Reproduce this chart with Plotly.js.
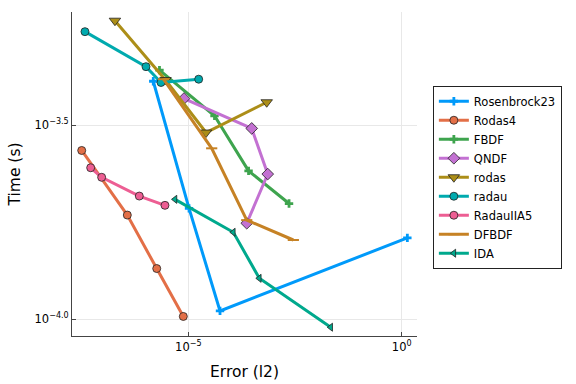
<!DOCTYPE html>
<html>
<head>
<meta charset="utf-8">
<script src="https://cdn.plot.ly/plotly-3.0.1.min.js"></script>
<style>html,body{margin:0;padding:0;background:#fff;}#plot{width:576px;height:384px;}</style>
</head>
<body>
<div id="plot"></div>
<script>
// Series names and colours
const seriesNames = ["Rosenbrock23","Rodas4","FBDF","QNDF","rodas","radau","RadauIIA5","DFBDF","IDA"];
const seriesColors = ["#009AFA","#E36F47","#3EA44E","#C371D2","#AC8E18","#00AAAE","#ED5E93","#C68225","#00A98D"];

// Error (l2) values
const rosenbrock23Err = [1.51e-6, 1.04e-5, 5.53e-5, 1.355];
const rodas4Err       = [3.18e-8, 3.72e-7, 1.82e-6, 7.64e-6];
const fbdfErr         = [2.11e-6, 4.11e-5, 2.58e-4, 2.29e-3];
const qndfErr         = [7.93e-6, 3.06e-4, 7.26e-4, 2.34e-4];
const rodasErr        = [1.91e-7, 2.92e-6, 2.60e-5, 6.87e-4];
const radauErr        = [3.79e-8, 1.02e-6, 2.29e-6, 1.75e-5];
const radauIIA5Err    = [5.16e-8, 9.33e-8, 7.11e-7, 2.84e-6];
const dfbdfErr        = [2.62e-6, 3.53e-5, 2.34e-4, 2.89e-3];
const idaErr          = [4.88e-6, 1.135e-4, 4.61e-4, 2.17e-2];

// Time (s) values
const rosenbrock23Time = [4.10e-4, 1.93e-4, 1.051e-4, 1.62e-4];
const rodas4Time       = [2.72e-4, 1.855e-4, 1.351e-4, 1.017e-4];
const fbdfTime         = [4.38e-4, 3.34e-4, 2.41e-4, 1.986e-4];
const qndfTime         = [3.70e-4, 3.10e-4, 2.365e-4, 1.767e-4];
const rodasTime        = [5.87e-4, 4.13e-4, 3.025e-4, 3.62e-4];
const radauTime        = [5.50e-4, 4.47e-4, 4.07e-4, 4.15e-4];
const radauIIA5Time    = [2.455e-4, 2.32e-4, 2.076e-4, 1.965e-4];
const dfbdfTime        = [4.15e-4, 2.755e-4, 1.80e-4, 1.60e-4];
const idaTime          = [2.036e-4, 1.675e-4, 1.275e-4, 9.54e-5];

// Tick labels
const xTickVals = [1e-5, 1];
const xTickText = ["10<sup>−5</sup>", "10<sup>0</sup>"];
const yTickVals = [Math.pow(10,-4.0), Math.pow(10,-3.5)];
const yTickText = ["10<sup>−4.0</sup>", "10<sup>−3.5</sup>"];

const errs = [rosenbrock23Err, rodas4Err, fbdfErr, qndfErr, rodasErr, radauErr, radauIIA5Err, dfbdfErr, idaErr];
const times = [rosenbrock23Time, rodas4Time, fbdfTime, qndfTime, rodasTime, radauTime, radauIIA5Time, dfbdfTime, idaTime];

const markerStyles = [
  {symbol:"cross", size:7, lw:0, lc:null},
  {symbol:"circle", size:8, lw:0.8, lc:"#222"},
  {symbol:"cross", size:7, lw:0, lc:null},
  {symbol:"diamond", size:9, lw:0.8, lc:"#222"},
  {symbol:"triangle-down", size:10, lw:0.8, lc:"#222"},
  {symbol:"circle", size:8, lw:0.8, lc:"#222"},
  {symbol:"circle", size:8, lw:0.8, lc:"#222"},
  {symbol:"line-ew", size:8, lw:2, lc:"#C68225"},
  {symbol:"triangle-left", size:7, lw:0.8, lc:"#222"}
];

const traces = seriesNames.map((name, i) => {
  const m = markerStyles[i];
  return {
    type: "scatter",
    mode: "lines+markers",
    name: name,
    x: errs[i],
    y: times[i],
    line: {color: seriesColors[i], width: 3},
    marker: {
      symbol: m.symbol,
      size: m.size,
      color: seriesColors[i],
      line: {width: m.lw, color: m.lc || seriesColors[i]}
    }
  };
});

const fontFam = "DejaVu Sans, sans-serif";
const layout = {
  width: 576,
  height: 384,
  autosize: false,
  margin: {l: 72, r: 159, t: 12, b: 48, pad: 0},
  paper_bgcolor: "#fff",
  plot_bgcolor: "#fff",
  font: {family: fontFam, size: 11.5, color: "#000"},
  showlegend: true,
  legend: {
    x: 1.046, xanchor: "left",
    y: 0.49, yanchor: "middle",
    bgcolor: "#fff",
    bordercolor: "#222",
    borderwidth: 1,
    font: {family: fontFam, size: 11.5, color: "#000"}
  },
  xaxis: {
    type: "log",
    range: [-7.725, 0.358],
    tickmode: "array",
    tickvals: xTickVals,
    ticktext: xTickText,
    ticks: "inside",
    ticklen: 4,
    tickcolor: "#444",
    showline: true,
    linecolor: "#444",
    linewidth: 1,
    showgrid: true,
    gridcolor: "#e8e8e8",
    gridwidth: 1,
    zeroline: false,
    mirror: false,
    tickfont: {family: fontFam, size: 11.5, color: "#000"},
    title: {text: "Error (l2)", font: {family: fontFam, size: 15.5, color: "#000"}, standoff: 13}
  },
  yaxis: {
    type: "log",
    range: [-4.043, -3.209],
    tickmode: "array",
    tickvals: yTickVals,
    ticktext: yTickText,
    ticks: "inside",
    ticklen: 4,
    tickcolor: "#444",
    showline: true,
    linecolor: "#444",
    linewidth: 1,
    showgrid: true,
    gridcolor: "#e8e8e8",
    gridwidth: 1,
    zeroline: false,
    mirror: false,
    tickfont: {family: fontFam, size: 11.5, color: "#000"},
    title: {text: "Time (s)", font: {family: fontFam, size: 15.5, color: "#000"}, standoff: 10}
  }
};

Plotly.newPlot("plot", traces, layout, {displayModeBar: false, staticPlot: true});
</script>
</body>
</html>
